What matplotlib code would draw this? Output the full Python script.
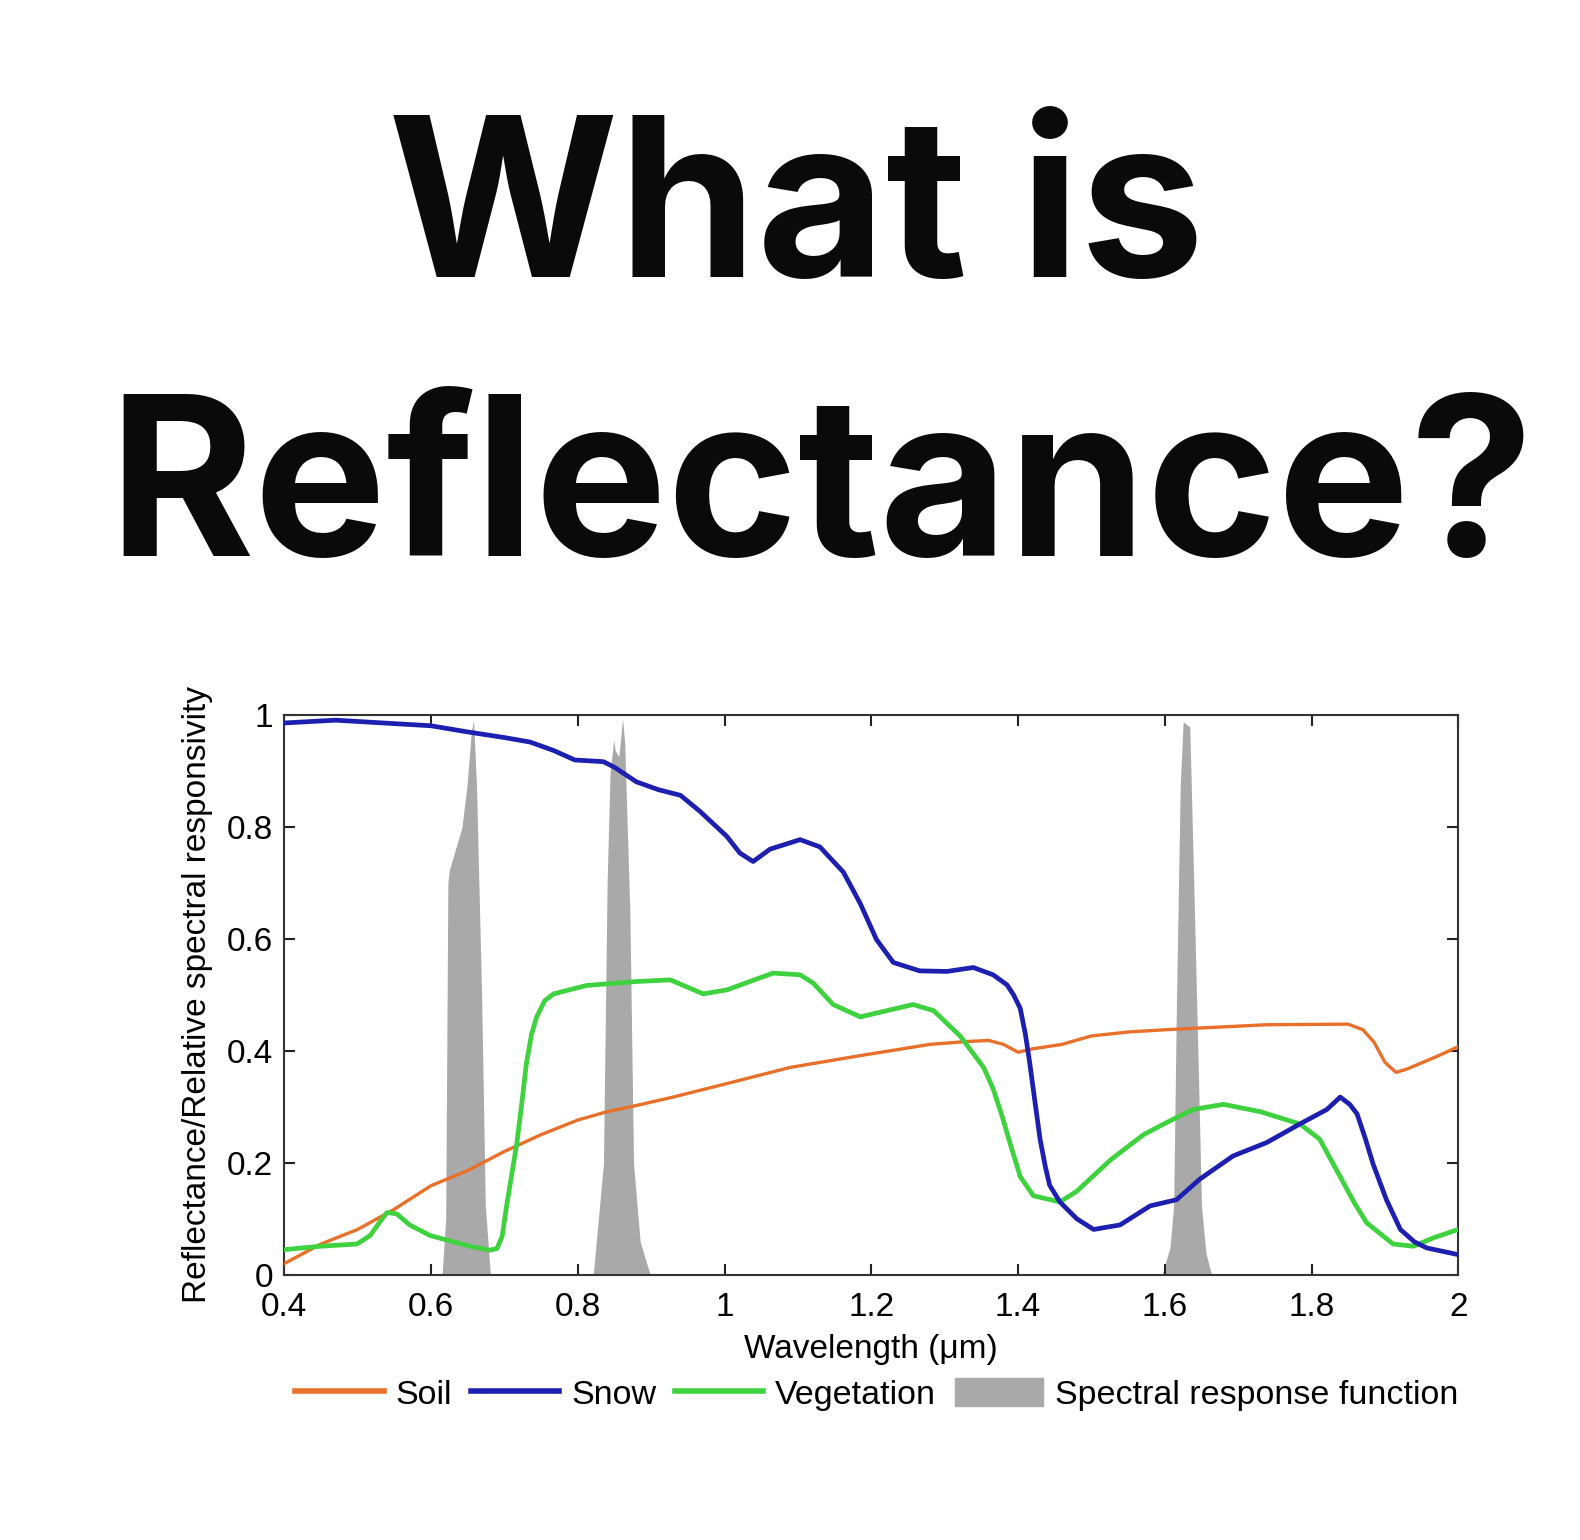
import matplotlib
matplotlib.use("Agg")
import matplotlib.pyplot as plt
from matplotlib.patches import Patch
from matplotlib.lines import Line2D

# values
soil_x = [0.40, 0.45, 0.50, 0.55, 0.60, 0.65, 0.70, 0.75, 0.80, 0.84, 0.88, 0.93, 1.00, 1.09, 1.19,
          1.28, 1.33, 1.36, 1.38, 1.40, 1.42, 1.46, 1.50, 1.55, 1.60, 1.63, 1.74, 1.85, 1.87, 1.885,
          1.90, 1.915, 1.93, 1.97, 2.00]
soil_y = [0.021, 0.056, 0.082, 0.118, 0.160, 0.187, 0.221, 0.251, 0.277, 0.292, 0.303, 0.318, 0.341,
          0.371, 0.393, 0.412, 0.417, 0.419, 0.412, 0.398, 0.404, 0.412, 0.427, 0.434, 0.438, 0.440,
          0.447, 0.448, 0.438, 0.416, 0.380, 0.362, 0.368, 0.390, 0.408]

snow_x = [0.40, 0.47, 0.60, 0.65, 0.70, 0.735, 0.767, 0.796, 0.835, 0.85, 0.88, 0.91, 0.94, 0.966,
          1.003, 1.021, 1.039, 1.062, 1.103, 1.130, 1.162, 1.185, 1.207, 1.230, 1.266, 1.303, 1.339,
          1.366, 1.385, 1.394, 1.403, 1.410, 1.416, 1.423, 1.430, 1.437, 1.443, 1.457, 1.480, 1.503,
          1.539, 1.580, 1.616, 1.648, 1.693, 1.739, 1.784, 1.821, 1.839, 1.852, 1.862, 1.873, 1.884,
          1.902, 1.921, 1.940, 1.957, 2.00]
snow_y = [0.985, 0.99, 0.98, 0.969, 0.959, 0.951, 0.936, 0.919, 0.916, 0.906, 0.88, 0.866, 0.856,
          0.828, 0.783, 0.753, 0.738, 0.760, 0.777, 0.764, 0.719, 0.663, 0.599, 0.558, 0.543, 0.542,
          0.549, 0.536, 0.518, 0.500, 0.476, 0.430, 0.378, 0.310, 0.243, 0.195, 0.161, 0.131, 0.101,
          0.082, 0.090, 0.124, 0.135, 0.172, 0.213, 0.237, 0.270, 0.296, 0.318, 0.305, 0.288, 0.245,
          0.198, 0.135, 0.082, 0.060, 0.049, 0.037]

veg_x = [0.40, 0.449, 0.499, 0.517, 0.53, 0.54, 0.553, 0.562, 0.571, 0.599, 0.653, 0.68, 0.690,
         0.697, 0.703, 0.710, 0.717, 0.724, 0.73, 0.737, 0.744, 0.755, 0.767, 0.812, 0.88, 0.926,
         0.971, 1.003, 1.066, 1.103, 1.121, 1.148, 1.185, 1.221, 1.257, 1.285, 1.321, 1.353, 1.366,
         1.378, 1.389, 1.403, 1.421, 1.457, 1.48, 1.526, 1.571, 1.603, 1.639, 1.680, 1.730, 1.784,
         1.811, 1.839, 1.858, 1.875, 1.911, 1.939, 1.966, 2.00]
veg_y = [0.046, 0.052, 0.056, 0.071, 0.095, 0.112, 0.110, 0.100, 0.090, 0.071, 0.052, 0.045, 0.048,
         0.070, 0.124, 0.180, 0.236, 0.310, 0.378, 0.430, 0.461, 0.490, 0.502, 0.517, 0.524, 0.527,
         0.502, 0.509, 0.539, 0.536, 0.521, 0.483, 0.461, 0.472, 0.483, 0.472, 0.427, 0.371, 0.333,
         0.285, 0.236, 0.176, 0.142, 0.131, 0.150, 0.206, 0.251, 0.273, 0.296, 0.305, 0.292, 0.270,
         0.243, 0.176, 0.130, 0.094, 0.056, 0.052, 0.067, 0.082]

# spectral response function, three bands
srf_x = [0.615, 0.620, 0.623, 0.625, 0.630, 0.642, 0.649, 0.655, 0.658, 0.662, 0.669, 0.674, 0.681,
         0.821, 0.835, 0.840, 0.844, 0.849, 0.851, 0.856, 0.861, 0.864, 0.871, 0.876, 0.885, 0.899,
         1.596, 1.607, 1.612, 1.616, 1.621, 1.625, 1.634, 1.639, 1.646, 1.650, 1.656, 1.664]
srf_y = [0.0, 0.10, 0.70, 0.723, 0.745, 0.798, 0.873, 0.97, 0.99, 0.873, 0.498, 0.124, 0.0,
         0.0, 0.2, 0.7, 0.895, 0.955, 0.936, 0.925, 0.993, 0.948, 0.648, 0.2, 0.06, 0.0,
         0.0, 0.05, 0.124, 0.498, 0.873, 0.987, 0.978, 0.723, 0.348, 0.124, 0.04, 0.0]

xticks = [0.4, 0.6, 0.8, 1.0, 1.2, 1.4, 1.6, 1.8, 2.0]
xticklabels = ['0.4', '0.6', '0.8', '1', '1.2', '1.4', '1.6', '1.8', '2']
yticks = [0, 0.2, 0.4, 0.6, 0.8, 1.0]
yticklabels = ['0', '0.2', '0.4', '0.6', '0.8', '1']

c_soil = '#e8702a'
c_snow = '#1c1fb0'
c_veg = '#3fd23f'
c_srf = '#a9a9a9'

plt.rcParams['font.family'] = ['Liberation Sans', 'DejaVu Sans']

fig = plt.figure(figsize=(15.8, 15.4), dpi=100)

# big title
fig.text(0.504, 0.820, 'What is', fontsize=160, fontweight='bold', family='Inter',
         ha='center', va='baseline', color='#0a0a0a')
fig.text(0.520, 0.639, 'Reflectance?', fontsize=160, fontweight='bold', family='Inter',
         ha='center', va='baseline', color='#0a0a0a')

ax = fig.add_axes([0.1799, 0.1718, 0.7431, 0.3642])
ax.fill_between(srf_x, srf_y, 0, color=c_srf, lw=0, zorder=1)
ax.plot(soil_x, soil_y, color=c_soil, lw=2.4, zorder=3)
ax.plot(veg_x, veg_y, color=c_veg, lw=3.4, zorder=3)
ax.plot(snow_x, snow_y, color=c_snow, lw=3.4, zorder=4)

ax.set_xlim(0.4, 2.0)
ax.set_ylim(0, 1)
ax.set_xticks(xticks)
ax.set_xticklabels(xticklabels)
ax.set_yticks(yticks)
ax.set_yticklabels(yticklabels)
ax.tick_params(direction='in', length=8, width=1.5, labelsize=24, top=True, right=True,
               color='#222222')
ax.tick_params(axis='x', pad=12)
ax.tick_params(axis='y', pad=8)
for s in ax.spines.values():
    s.set_linewidth(1.5)
    s.set_color('#333333')

ax.set_xlabel('Wavelength (μm)', fontsize=24, labelpad=8)
ax.set_ylabel('Reflectance/Relative spectral responsivity', fontsize=24, labelpad=10)

handles = [Line2D([], [], color=c_soil, lw=4),
           Line2D([], [], color=c_snow, lw=4),
           Line2D([], [], color=c_veg, lw=4),
           Patch(color=c_srf)]
labels = ['Soil', 'Snow', 'Vegetation', 'Spectral response function']
fig.legend(handles, labels, loc='center', bbox_to_anchor=(0.555, 0.0945), ncol=4,
           frameon=False, fontsize=24.5, handlelength=2.6, handleheight=0.9,
           handletextpad=0.35, columnspacing=0.55)

fig.savefig('out.png', dpi=100, facecolor='white')
